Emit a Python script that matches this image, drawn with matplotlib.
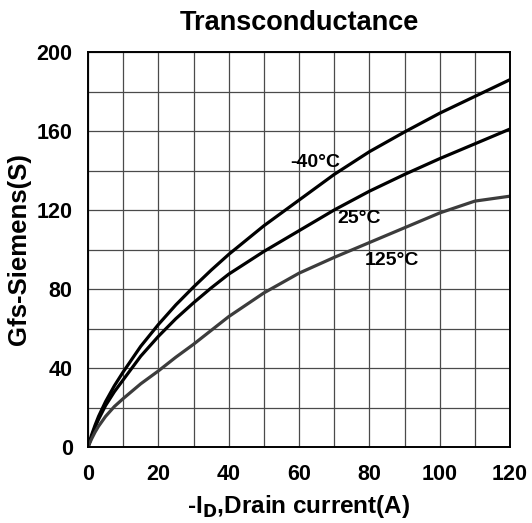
import numpy as np
import matplotlib
matplotlib.use('Agg')
from matplotlib import pyplot as plt

# drain current (A)
current = [0, 1, 2, 3, 5, 7.5, 10, 15, 20, 25, 30, 35, 40, 50, 60, 70, 80, 90, 100, 110, 120]
gfs_m40 = [0, 6, 11, 15.5, 23, 31, 38, 51, 62, 72, 81, 89.5, 97.5, 112, 125, 138, 149.5, 159.5, 169, 177.5, 186]
gfs_25 = [0, 5, 10, 14, 21, 28, 34, 46, 56, 65, 73, 80.5, 87.5, 99, 109.5, 120, 129.5, 138, 146, 153.5, 161]
gfs_125 = [0, 4, 7.5, 10.5, 15.5, 20.5, 24.5, 32, 38.5, 45.5, 52, 59, 66, 78, 88, 96, 103.5, 111, 118.5, 124.5, 127]

labels = ['-40°C', '25°C', '125°C']
label_pos = [(64.5, 144), (77, 115.5), (86.3, 94.3)]

plt.rcParams['font.family'] = 'Liberation Sans'
plt.rcParams['font.weight'] = 'bold'

fig = plt.figure(figsize=(5.32, 5.23), dpi=100)
ax = fig.add_axes([88/532, 1-447/523, (510-88)/532, (447-52)/523])

ax.plot(current, gfs_m40, color='black', lw=2.3)
ax.plot(current, gfs_25, color='black', lw=2.3)
ax.plot(current, gfs_125, color='#3c3c3c', lw=2.3)

for txt, (x, y) in zip(labels, label_pos):
    ax.text(x, y, txt, fontsize=14, fontweight='bold', ha='center', va='center')

ax.set_xlim(0, 120)
ax.set_ylim(0, 200)
ax.set_xticks(np.arange(0, 121, 20))
ax.set_yticks(np.arange(0, 201, 40))
ax.set_xticks(np.arange(0, 121, 10), minor=True)
ax.set_yticks(np.arange(0, 201, 20), minor=True)
ax.grid(which='both', color='#4a4a4a', lw=0.9)
ax.tick_params(which='both', length=0, labelsize=15.5)
ax.tick_params(axis='y', pad=11)
ax.tick_params(axis='x', pad=12)
for s in ax.spines.values():
    s.set_linewidth(1.4)

ax.set_title('Transconductance', fontsize=19.5, fontweight='bold', pad=16)
ax.set_xlabel(r'-I$_\mathbf{D}$,Drain current(A)', fontsize=17.5, fontweight='bold', labelpad=6)
ax.set_ylabel('Gfs-Siemens(S)', fontsize=18.5, fontweight='bold', labelpad=4)

plt.savefig('out.png')
